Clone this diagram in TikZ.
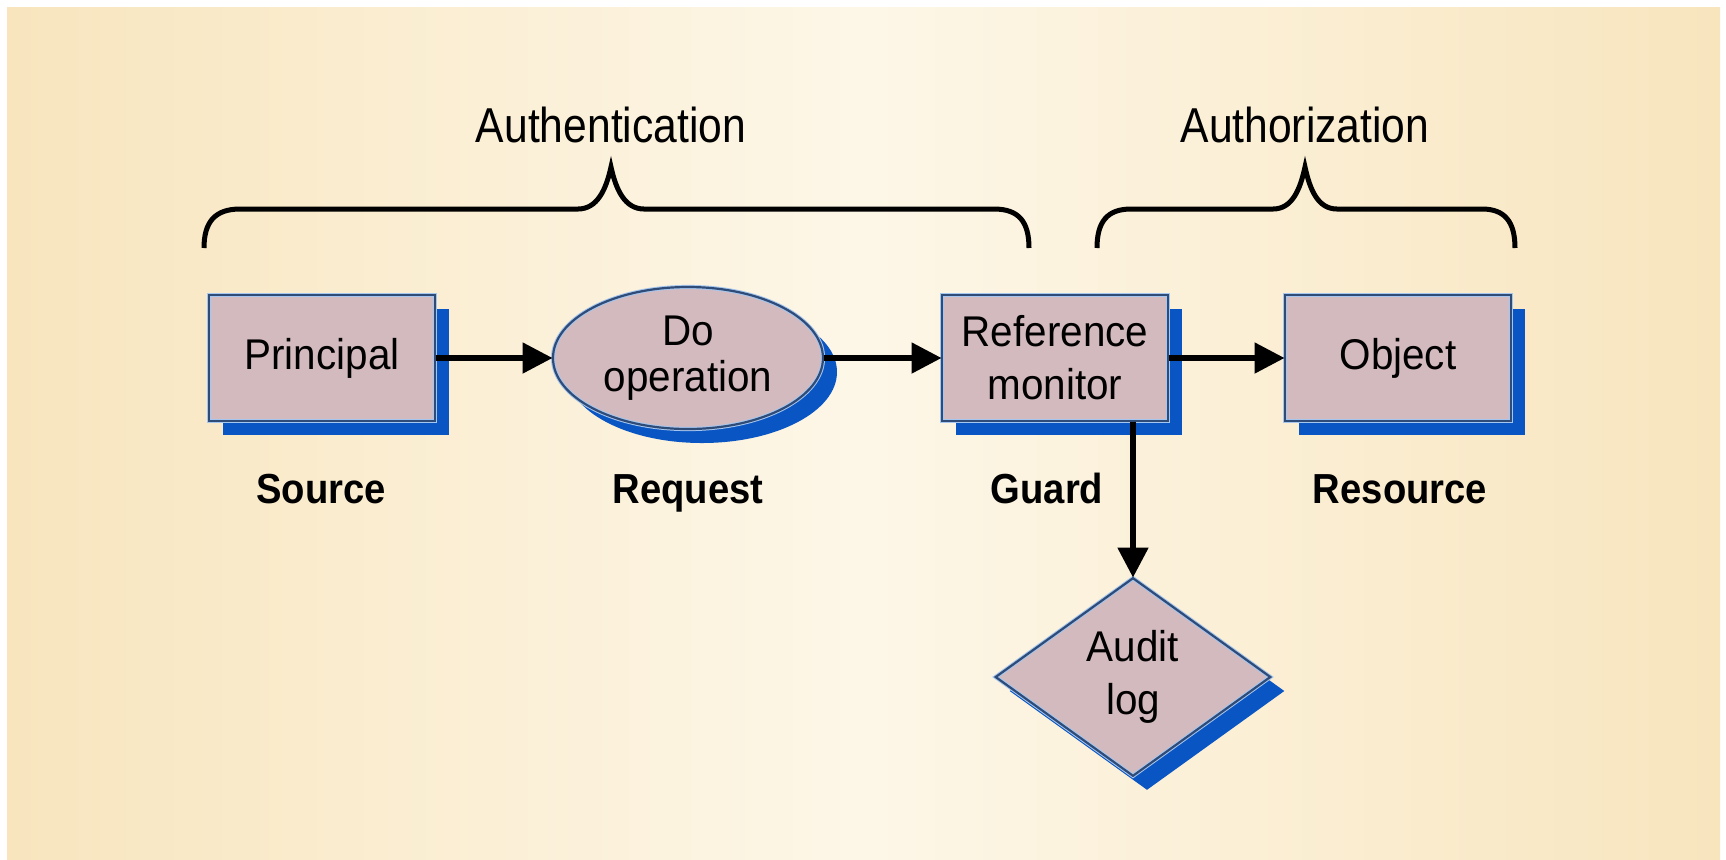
\documentclass[tikz,border=0pt]{standalone}
\usepackage{fontspec}
\setmainfont{Liberation Sans}
\newfontfamily\headfont[FakeStretch=0.87]{Liberation Sans}
\newfontfamily\boxfont[FakeStretch=0.94]{Liberation Sans}
\newfontfamily\tagfont[FakeStretch=0.91]{Liberation Sans}
\usetikzlibrary{shapes.geometric,arrows.meta,shadows}

\definecolor{bgedge}{RGB}{248,229,190}
\definecolor{bgmid}{RGB}{253,247,232}
\definecolor{boxfill}{RGB}{211,186,190}
\definecolor{boxline}{RGB}{47,75,120}
\definecolor{boxglow}{RGB}{165,198,238}
\definecolor{shadowblue}{RGB}{8,85,195}

\tikzset{
  blueshadow/.style={drop shadow={shadow xshift=7pt, shadow yshift=-7pt,
      fill=shadowblue, opacity=1}},
  outline/.style={draw=boxglow, line width=0.5pt, double=boxline,
      double distance=1.1pt, fill=boxfill},
  boxtext/.style={font=\boxfont\fontsize{21.5}{26.5}\selectfont, align=center},
  stepbox/.style={rectangle, outline, blueshadow, boxtext, inner sep=0pt,
      minimum width=113pt, minimum height=63pt},
  ovalbox/.style={ellipse, outline, blueshadow, boxtext, inner sep=0pt,
      minimum width=135pt, minimum height=71pt},
  logbox/.style={diamond, aspect=1.4, outline, blueshadow, boxtext, inner sep=0pt,
      minimum width=137.5pt, minimum height=99pt},
  flow/.style={line width=2.6pt, -{Triangle[length=15pt,width=15pt]}},
  bracket/.style={line width=2.5pt},
  headtext/.style={font=\headfont\fontsize{24.5}{29}\selectfont, anchor=base},
  roletext/.style={font=\tagfont\bfseries\fontsize{21}{25}\selectfont, anchor=base}
}

\begin{document}
\begin{tikzpicture}[x=0.5pt, y=-0.5pt]
  \useasboundingbox (0,0) rectangle (1726,859);
  % warm backdrop, lightest in the middle
  \shade[left color=bgedge, right color=bgedge, middle color=bgmid]
    (7,7) rectangle (1720,859);

  % main flow
  \node[stepbox] (principal) at (322,358) {Principal};
  \node[ovalbox, font=\boxfont\fontsize{21.5}{23}\selectfont] (request) at (688,358) {Do\\operation};
  \node[stepbox] (refmon) at (1055,358) {Reference\\monitor};
  \node[stepbox] (object) at (1398,358) {Object};
  \node[logbox] (audit) at (1133,677) {Audit\\log};

  \draw[flow] (principal.east) -- (request.west);
  \draw[flow] (request.east) -- (refmon.west);
  \draw[flow] (refmon.east) -- (object.west);
  \draw[flow] (refmon.south -| audit.north) -- (audit.north);

  % role captions
  \node[roletext] (lsource) at (321,503) {Source};
  \node[roletext] (lrequest) at (688,503) {Request};
  \node[roletext] (lguard) at (1047,503) {Guard};
  \node[roletext] (lresource) at (1400,503) {Resource};

  % braces with their captions
  \node[headtext] (authn) at (611,142) {Authentication};
  \node[headtext] (authz) at (1305,142) {Authorization};

  \draw[bracket] (204,248) .. controls (204,222) and (215,209) .. (240,209)
    -- (578,209) .. controls (597,209) and (606,190) .. (611,167)
    .. controls (616,190) and (625,209) .. (644,209)
    -- (994,209) .. controls (1019,209) and (1029,222) .. (1029,248);

  \draw[bracket] (1097,248) .. controls (1097,222) and (1107,209) .. (1131,209)
    -- (1273,209) .. controls (1292,209) and (1300,190) .. (1305,167)
    .. controls (1310,190) and (1318,209) .. (1337,209)
    -- (1482,209) .. controls (1505,209) and (1515,222) .. (1515,248);
\end{tikzpicture}
\end{document}
